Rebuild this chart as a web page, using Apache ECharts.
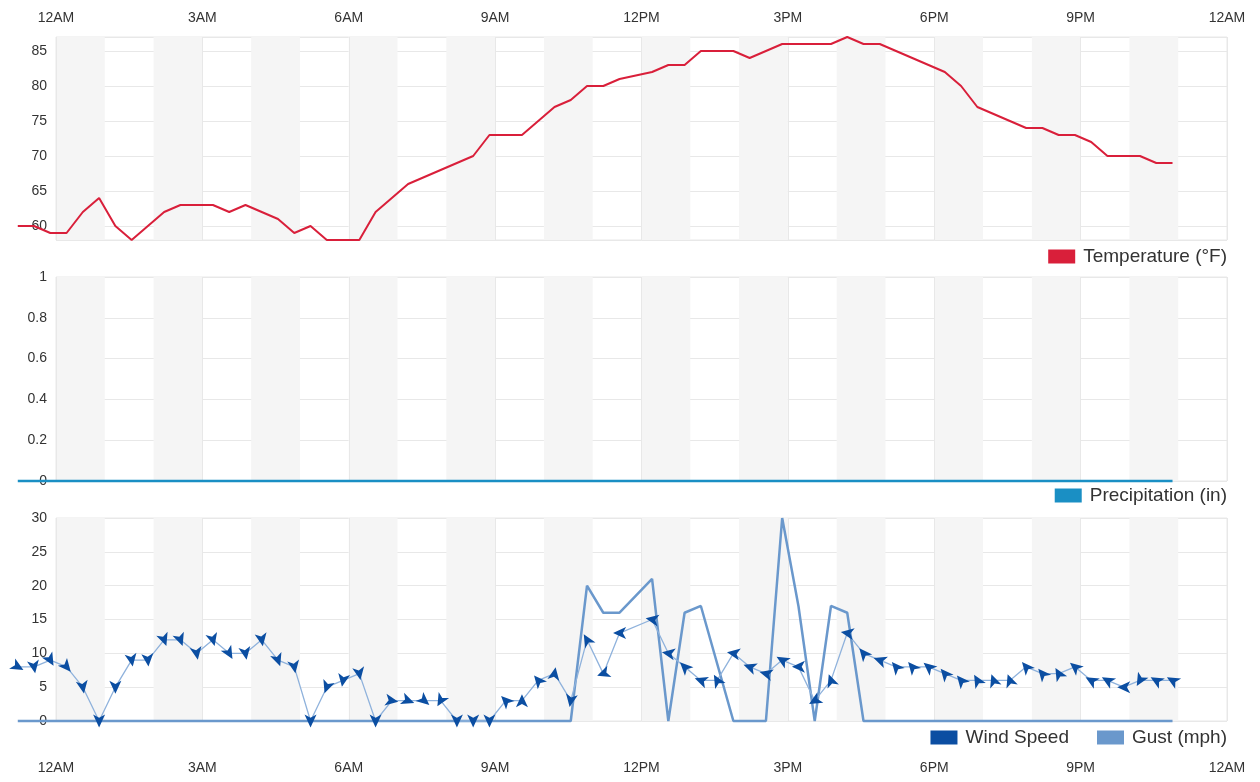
<!DOCTYPE html>
<html>
<head>
<meta charset="utf-8">
<title>Daily weather history</title>
<script src="https://cdn.jsdelivr.net/npm/echarts@6/dist/echarts.min.js"></script>
<style>
  html, body { margin: 0; padding: 0; background: #fff; }
  #chart { width: 1260px; height: 782px; }
</style>
</head>
<body>
<div id="chart"></div>
<script>
// observation times in minutes from midnight (first three are late the evening before)
const obsMinutes = [
  -47, -27, -7, 13, 33, 53, 73, 93, 113, 133,
  153, 173, 193, 213, 233, 253, 273, 293, 313, 333,
  353, 373, 393, 413, 433, 453, 473, 493, 513, 533,
  553, 573, 593, 613, 633, 653, 673, 693,
  733, 753, 773, 793, 813, 833, 853, 873, 893, 913,
  933, 953, 973, 993, 1013, 1033, 1053, 1073, 1093, 1113,
  1133, 1153, 1173, 1193, 1213, 1233, 1253, 1273, 1293, 1313,
  1333, 1353, 1373
];

const hourLabels = ['12AM', '3AM', '6AM', '9AM', '12PM', '3PM', '6PM', '9PM', '12AM'];

const temperature = [
  60, 60, 59, 59, 62, 64, 60, 58, 60, 62,
  63, 63, 63, 62, 63, 62, 61, 59, 60, 58,
  58, 58, 62, 64, 66, 67, 68, 69, 70, 73,
  73, 73, 75, 77, 78, 80, 80, 81,
  82, 83, 83, 85, 85, 85, 84, 85, 86, 86,
  86, 86, 87, 86, 86, 85, 84, 83, 82, 80,
  77, 76, 75, 74, 74, 73, 73, 72, 70, 70,
  70, 69, 69
];

const precipitation = [
  0, 0, 0, 0, 0, 0, 0, 0, 0, 0,
  0, 0, 0, 0, 0, 0, 0, 0, 0, 0,
  0, 0, 0, 0, 0, 0, 0, 0, 0, 0,
  0, 0, 0, 0, 0, 0, 0, 0,
  0, 0, 0, 0, 0, 0, 0, 0, 0, 0,
  0, 0, 0, 0, 0, 0, 0, 0, 0, 0,
  0, 0, 0, 0, 0, 0, 0, 0, 0, 0,
  0, 0, 0
];

const windSpeed = [
  8, 8, 9, 8, 5, 0, 5, 9, 9, 12,
  12, 10, 12, 10, 10, 12, 9, 8, 0, 5,
  6, 7, 0, 3, 3, 3, 3, 0, 0, 0,
  3, 3, 6, 7, 3, 12, 7, 13,
  15, 10, 8, 6, 6, 10, 8, 7, 9, 8,
  3, 6, 13, 10, 9, 8, 8, 8, 7, 6,
  6, 6, 6, 8, 7, 7, 8, 6, 6, 5,
  6, 6, 6
];

const windGust = [
  0, 0, 0, 0, 0, 0, 0, 0, 0, 0,
  0, 0, 0, 0, 0, 0, 0, 0, 0, 0,
  0, 0, 0, 0, 0, 0, 0, 0, 0, 0,
  0, 0, 0, 0, 0, 20, 16, 16,
  21, 0, 16, 17, null, 0, 0, 0, 30, 17,
  0, 17, 16, 0, 0, 0, 0, 0, 0, 0,
  0, 0, 0, 0, 0, 0, 0, 0, 0, 0,
  0, 0, 0
];

// direction the arrow points, degrees clockwise from up
const windDir = [
  120, 170, 150, 140, 170, 180, 180, 170, 175, 160,
  160, 170, 165, 150, 170, 170, 160, 170, 180, 200,
  190, 170, 180, 100, 110, 130, 210, 180, 180, 180,
  315, 0, 320, 10, 190, 330, 250, 270,
  280, 280, 315, 290, 330, 280, 290, 285, 300, 270,
  240, 340, 280, 320, 290, 320, 320, 310, 320, 320,
  330, 340, 340, 320, 320, 330, 310, 300, 300, 270,
  210, 300, 300
];

const FONT = "'Liberation Sans', Arial, sans-serif";
const GRID_LINE = '#e8e8e8';
const WIDTH = 1260, LEFT = 56, RIGHT = 33;
// notched arrowhead pointing up, centred on its box so it rotates about the data point
const ARROW = 'path://M0,-6.5L6,6.5L0,3.25L-6,6.5Z';

const hours = obsMinutes.map(m => m / 60);
const pairs = arr => arr.map((v, i) => [hours[i], v]);

const chart = echarts.init(document.getElementById('chart'));

const panels = [
  { top: 37, height: 203 },
  { top: 277, height: 204 },
  { top: 518, height: 203 }
];

// visible grids hold axes and bands; full-width twins hold the series so the
// lines can run past the left edge like the original
const visibleGrids = panels.map(p => Object.assign({
  left: LEFT, right: RIGHT, show: true, borderColor: GRID_LINE, borderWidth: 1, backgroundColor: 'transparent'
}, p));
const plotGrids = panels.map(p => Object.assign({ left: 0, right: 0, show: false }, p));

const hoursPerPx = 24 / (WIDTH - LEFT - RIGHT);
const plotMin = -LEFT * hoursPerPx;
const plotMax = 24 + RIGHT * hoursPerPx;

const timeAxis = (gridIndex, position, showLabels, margin) => ({
  type: 'value', gridIndex, position, min: 0, max: 24, interval: 3,
  axisLine: { show: false }, axisTick: { show: false },
  axisLabel: {
    show: showLabels, margin, color: '#333', fontSize: 14, fontFamily: FONT,
    formatter: v => hourLabels[Math.round(v / 3)]
  },
  splitLine: { show: true, lineStyle: { color: GRID_LINE } },
  z: 1
});
const bandAxis = gridIndex => ({
  type: 'value', gridIndex, min: 0, max: 24, interval: 1, show: true,
  axisLine: { show: false }, axisTick: { show: false }, axisLabel: { show: false },
  splitLine: { show: false },
  splitArea: { show: true, areaStyle: { color: ['#f5f5f5', 'rgba(255,255,255,0)'] } },
  z: 0
});
const plotXAxis = gridIndex => ({ type: 'value', gridIndex, min: plotMin, max: plotMax, show: false });

const yLabel = { color: '#333', fontSize: 14, fontFamily: FONT, margin: 9 };
const ySplit = { show: true, lineStyle: { color: GRID_LINE } };
const yRanges = [{ min: 58, max: 87 }, { min: 0, max: 1 }, { min: 0, max: 30 }];

const legendBase = {
  right: 28, icon: 'rect', itemWidth: 27, itemHeight: 14, itemGap: 28,
  itemStyle: { borderWidth: 0 },
  textStyle: { color: '#333', fontSize: 19, fontFamily: FONT, padding: [0, 0, 0, 3] },
  selectedMode: false
};

chart.setOption({
  animation: false,
  grid: visibleGrids.concat(plotGrids),
  xAxis: [
    timeAxis(0, 'top', true, 12),
    timeAxis(1, 'bottom', false, 0),
    timeAxis(2, 'bottom', true, 40),
    bandAxis(0), bandAxis(1), bandAxis(2),
    plotXAxis(3), plotXAxis(4), plotXAxis(5)
  ],
  yAxis: [
    {
      type: 'value', gridIndex: 0, min: 58, max: 87, splitNumber: 5,
      axisLine: { show: false }, axisTick: { show: false },
      axisLabel: Object.assign({ showMinLabel: false, showMaxLabel: false }, yLabel),
      splitLine: ySplit
    },
    {
      type: 'value', gridIndex: 1, min: 0, max: 1, interval: 0.2,
      axisLine: { show: false }, axisTick: { show: false },
      axisLabel: yLabel, splitLine: ySplit
    },
    {
      type: 'value', gridIndex: 2, min: 0, max: 30, interval: 5,
      axisLine: { show: false }, axisTick: { show: false },
      axisLabel: yLabel, splitLine: ySplit
    }
  ].concat(yRanges.map((r, i) => ({ type: 'value', gridIndex: 3 + i, min: r.min, max: r.max, show: false }))),
  legend: [
    Object.assign({}, legendBase, { top: 242, data: [{ name: 'Temperature (°F)', itemStyle: { color: '#d91f3a' } }] }),
    Object.assign({}, legendBase, { top: 481, data: [{ name: 'Precipitation (in)', itemStyle: { color: '#1a8fc4' } }] }),
    Object.assign({}, legendBase, {
      top: 723,
      data: [
        { name: 'Wind Speed', itemStyle: { color: '#0b4ea2' } },
        { name: 'Gust (mph)', itemStyle: { color: '#6a98cc' } }
      ]
    })
  ],
  series: [
    {
      name: 'Temperature (°F)', type: 'line', xAxisIndex: 6, yAxisIndex: 3,
      data: pairs(temperature), symbol: 'none', clip: false,
      itemStyle: { color: '#d91f3a' },
      lineStyle: { color: '#d91f3a', width: 2 }
    },
    {
      name: 'Precipitation (in)', type: 'line', xAxisIndex: 7, yAxisIndex: 4,
      data: pairs(precipitation), symbol: 'none', clip: false,
      itemStyle: { color: '#1a8fc4' },
      lineStyle: { color: '#1a8fc4', width: 2.5 }
    },
    {
      name: 'Gust (mph)', type: 'line', xAxisIndex: 8, yAxisIndex: 5,
      data: pairs(windGust), symbol: 'none', clip: false, connectNulls: true,
      itemStyle: { color: '#6a98cc' },
      lineStyle: { color: '#6a98cc', width: 2.5 }
    },
    {
      name: 'Wind Speed', type: 'line', xAxisIndex: 8, yAxisIndex: 5,
      data: windSpeed.map((v, i) => ({ value: [hours[i], v], symbolRotate: -windDir[i] })),
      symbol: ARROW, symbolSize: [12, 13], showAllSymbol: true, clip: false,
      itemStyle: { color: '#0b4ea2', borderWidth: 0 },
      lineStyle: { color: '#8fb2dc', width: 1.3 },
      z: 3
    }
  ]
});
</script>
</body>
</html>
